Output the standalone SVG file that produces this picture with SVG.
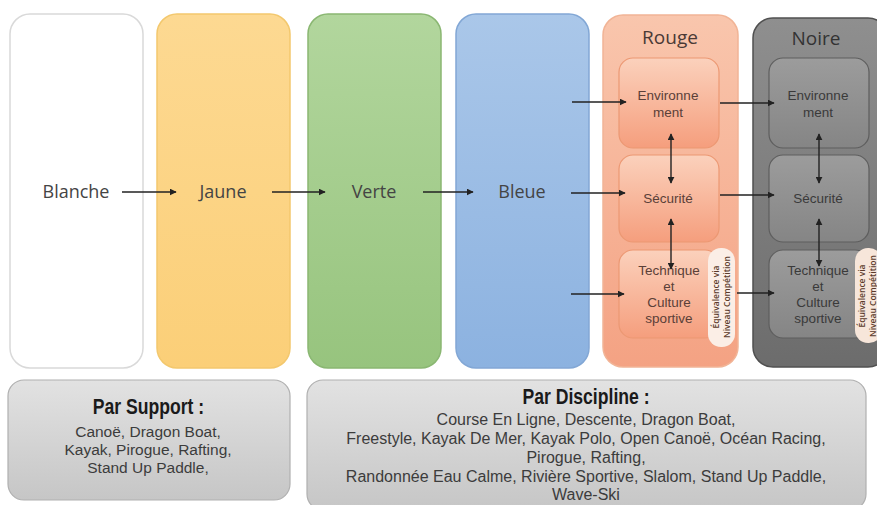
<svg xmlns="http://www.w3.org/2000/svg" width="877" height="505" viewBox="0 0 877 505">
<defs>
<linearGradient id="gJ" x1="0" y1="0" x2="0" y2="1"><stop offset="0" stop-color="#fdd992"/><stop offset="1" stop-color="#fbcf78"/></linearGradient>
<linearGradient id="gV" x1="0" y1="0" x2="0" y2="1"><stop offset="0" stop-color="#b2d69d"/><stop offset="1" stop-color="#97c47e"/></linearGradient>
<linearGradient id="gB" x1="0" y1="0" x2="0" y2="1"><stop offset="0" stop-color="#aac7e9"/><stop offset="1" stop-color="#8cb2e0"/></linearGradient>
<linearGradient id="gR" x1="0" y1="0" x2="0" y2="1"><stop offset="0" stop-color="#f9c6ad"/><stop offset="1" stop-color="#f4a283"/></linearGradient>
<linearGradient id="gRi" x1="0" y1="0" x2="0" y2="1"><stop offset="0" stop-color="#fbd1bc"/><stop offset="1" stop-color="#f59e7d"/></linearGradient>
<linearGradient id="gN" x1="0" y1="0" x2="0" y2="1"><stop offset="0" stop-color="#8f8f8f"/><stop offset="1" stop-color="#6c6c6c"/></linearGradient>
<linearGradient id="gNi" x1="0" y1="0" x2="0" y2="1"><stop offset="0" stop-color="#9c9c9c"/><stop offset="1" stop-color="#858585"/></linearGradient>
<linearGradient id="gG" x1="0" y1="0" x2="0" y2="1"><stop offset="0" stop-color="#e2e2e2"/><stop offset="1" stop-color="#c6c6c6"/></linearGradient>
<marker id="ah" viewBox="0 0 10 10" refX="9" refY="5" markerWidth="7" markerHeight="7" orient="auto-start-reverse" markerUnits="userSpaceOnUse"><path d="M0,0 L10,5 L0,10 z" fill="#222"/></marker>
</defs>
<style>
.col{stroke-width:1.5}
.lbl{font-family:"Open Sans","DejaVu Sans",sans-serif;font-size:18px;fill:#444;text-anchor:middle}
.ttl{font-family:"Open Sans","DejaVu Sans",sans-serif;font-size:19px;fill:#4a3a36;text-anchor:middle}
.in{font-family:"Liberation Sans",Arial,sans-serif;font-size:13.5px;fill:#5a4038;text-anchor:middle}
.inn{font-family:"Liberation Sans",Arial,sans-serif;font-size:13.5px;fill:#3a3a3a;text-anchor:middle}
.pill{font-family:"Open Sans","DejaVu Sans",sans-serif;font-size:8.5px;font-weight:600;fill:#5a3a2a;text-anchor:middle}
.bt{font-family:"Liberation Sans",Arial,sans-serif;font-weight:700;font-size:22px;fill:#1a1a1a;text-anchor:middle}
.bx{font-family:"Liberation Sans",Arial,sans-serif;font-size:15.5px;fill:#3c3c3c;text-anchor:middle}
.bd{font-size:16px}
.cn path{fill:none;stroke:#222;stroke-width:1.4}
</style>
<rect width="877" height="505" fill="#ffffff"/>

<g id="blanche"><rect class="col" x="10" y="14" width="133" height="354" rx="20" fill="#ffffff" stroke="#d9d9d9"/><text class="lbl" x="76" y="198">Blanche</text></g>
<g id="jaune"><rect class="col" x="157" y="14" width="133" height="354" rx="20" fill="url(#gJ)" stroke="#f3c86e"/><text class="lbl" x="223" y="198">Jaune</text></g>
<g id="verte"><rect class="col" x="308" y="14" width="133" height="354" rx="20" fill="url(#gV)" stroke="#8ab772"/><text class="lbl" x="374" y="198">Verte</text></g>
<g id="bleue"><rect class="col" x="456" y="14" width="133" height="354" rx="20" fill="url(#gB)" stroke="#82a7d5"/><text class="lbl" x="522" y="198">Bleue</text></g>

<g id="rouge">
<rect class="col" x="603" y="15" width="135" height="352" rx="20" fill="url(#gR)" stroke="#f1b496"/>
<text class="ttl" x="670" y="44">Rouge</text>
<g id="rouge-env"><rect x="619" y="58" width="100" height="90" rx="14" fill="url(#gRi)" stroke="#ec9873" stroke-width="1.2"/><text class="in" x="668" y="100">Environne</text><text class="in" x="668" y="117">ment</text></g>
<g id="rouge-sec"><rect x="619" y="155" width="100" height="87" rx="14" fill="url(#gRi)" stroke="#ec9873" stroke-width="1.2"/><text class="in" x="668" y="203">Sécurité</text></g>
<g id="rouge-tech"><rect x="619" y="250" width="100" height="88" rx="14" fill="url(#gRi)" stroke="#ec9873" stroke-width="1.2"/><text class="in" x="669" y="275">Technique</text><text class="in" x="669" y="291">et</text><text class="in" x="669" y="307">Culture</text><text class="in" x="669" y="323">sportive</text></g>
<g id="rouge-pill"><rect x="708" y="248" width="27" height="99" rx="13" fill="#fbeee6"/><text class="pill" transform="translate(719,297) rotate(-90)">Équivalence via</text><text class="pill" transform="translate(730,297) rotate(-90)">Niveau Compétition</text></g>
</g>

<g id="noire">
<rect class="col" x="753" y="18" width="135" height="349" rx="20" fill="url(#gN)" stroke="#505050"/>
<text class="ttl" x="816" y="45" style="fill:#333">Noire</text>
<g id="noire-env"><rect x="769" y="58" width="100" height="90" rx="14" fill="url(#gNi)" stroke="#5e5e5e" stroke-width="1.2"/><text class="inn" x="818" y="100">Environne</text><text class="inn" x="818" y="117">ment</text></g>
<g id="noire-sec"><rect x="769" y="155" width="100" height="87" rx="14" fill="url(#gNi)" stroke="#5e5e5e" stroke-width="1.2"/><text class="inn" x="818" y="203">Sécurité</text></g>
<g id="noire-tech"><rect x="769" y="250" width="100" height="88" rx="14" fill="url(#gNi)" stroke="#5e5e5e" stroke-width="1.2"/><text class="inn" x="818" y="275">Technique</text><text class="inn" x="818" y="291">et</text><text class="inn" x="818" y="307">Culture</text><text class="inn" x="818" y="323">sportive</text></g>
<g id="noire-pill"><rect x="855" y="248" width="27" height="95" rx="13" fill="#f7e6da"/><text class="pill" transform="translate(865,296) rotate(-90)">Équivalence via</text><text class="pill" transform="translate(876,296) rotate(-90)">Niveau Compétition</text></g>
</g>

<g id="par-support"><rect x="8" y="380" width="282" height="120" rx="16" fill="url(#gG)" stroke="#b0b0b0" stroke-width="1.2"/>
<text class="bt" transform="translate(148.5,414) scale(0.8,1)">Par Support :</text>
<text class="bx" x="148" y="437">Canoë, Dragon Boat,</text>
<text class="bx" x="148" y="455">Kayak, Pirogue, Rafting,</text>
<text class="bx" x="148" y="473">Stand Up Paddle,</text></g>

<g id="par-discipline"><rect x="307" y="380" width="559" height="130" rx="16" fill="url(#gG)" stroke="#b0b0b0" stroke-width="1.2"/>
<text class="bt" transform="translate(586,404) scale(0.8,1)">Par Discipline :</text>
<text class="bx bd" x="586" y="425">Course En Ligne, Descente, Dragon Boat,</text>
<text class="bx bd" x="586" y="444">Freestyle, Kayak De Mer, Kayak Polo, Open Canoë, Océan Racing,</text>
<text class="bx bd" x="586" y="463">Pirogue, Rafting,</text>
<text class="bx bd" x="586" y="482">Randonnée Eau Calme, Rivière Sportive, Slalom, Stand Up Paddle,</text>
<text class="bx bd" x="586" y="500">Wave-Ski</text></g>

<g id="connectors" class="cn">
<path d="M122,192 L176,192" marker-end="url(#ah)"/>
<path d="M272,192 L325,192" marker-end="url(#ah)"/>
<path d="M423,192 L473,192" marker-end="url(#ah)"/>
<path d="M572,102 L626,102" marker-end="url(#ah)"/>
<path d="M571,193 L625,193" marker-end="url(#ah)"/>
<path d="M571,294 L624,294" marker-end="url(#ah)"/>
<path d="M720,103 L774,103" marker-end="url(#ah)"/>
<path d="M720,195 L774,195" marker-end="url(#ah)"/>
<path d="M737,293 L774,293" marker-end="url(#ah)"/>
<path d="M671,134 L671,183" marker-start="url(#ah)" marker-end="url(#ah)"/>
<path d="M671,219 L671,269" marker-start="url(#ah)" marker-end="url(#ah)"/>
<path d="M819,134 L819,183" marker-start="url(#ah)" marker-end="url(#ah)"/>
<path d="M819,219 L819,266" marker-start="url(#ah)" marker-end="url(#ah)"/>
</g>
</svg>
